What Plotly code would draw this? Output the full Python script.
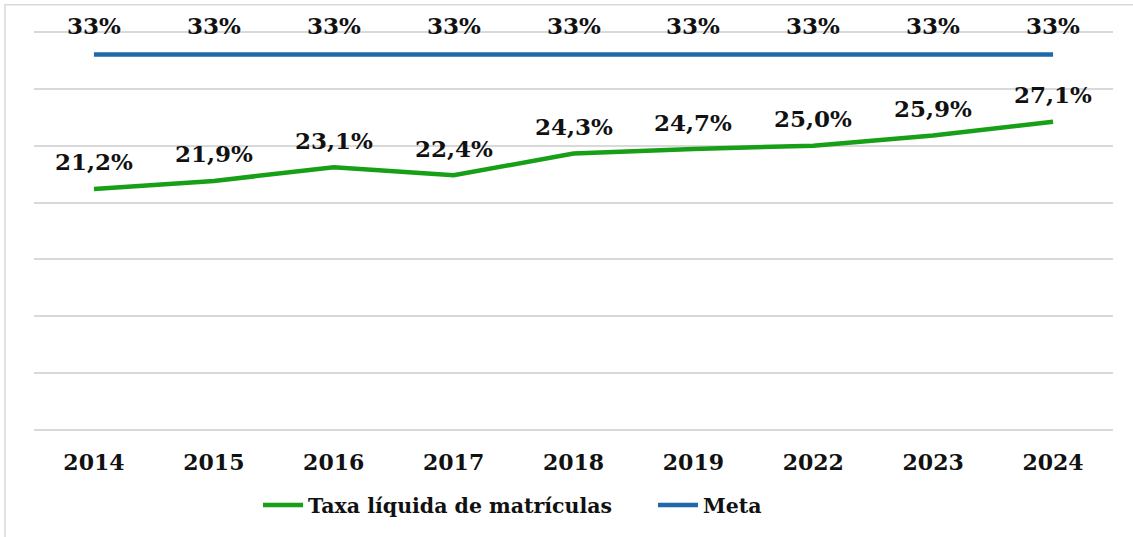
import plotly.graph_objects as go

years = ["2014", "2015", "2016", "2017", "2018", "2019", "2022", "2023", "2024"]
taxa = [21.2, 21.9, 23.1, 22.4, 24.3, 24.7, 25.0, 25.9, 27.1]
meta = [33, 33, 33, 33, 33, 33, 33, 33, 33]
taxa_labels = ["21,2%", "21,9%", "23,1%", "22,4%", "24,3%", "24,7%", "25,0%", "25,9%", "27,1%"]
meta_labels = ["33%"] * 9
y_ticks = [0, 5, 10, 15, 20, 25, 30, 35]

FONT = "DejaVu Serif"
GREEN = "#17A017"
BLUE = "#1F68AA"
TXT = "#111111"

fig = go.Figure()
fig.add_trace(go.Scatter(x=years, y=taxa, mode="lines", name="Taxa líquida de matrículas",
                         line=dict(color=GREEN, width=4.5)))
fig.add_trace(go.Scatter(x=years, y=meta, mode="lines", name="Meta",
                         line=dict(color=BLUE, width=4.5)))

annotations = []
for i, (y, t) in enumerate(zip(taxa, taxa_labels)):
    annotations.append(dict(x=i, y=y, xref="x", yref="y", text=t, showarrow=False, yshift=27,
                            font=dict(family=FONT, size=23, color=TXT, weight="bold")))
for i, (y, t) in enumerate(zip(meta, meta_labels)):
    annotations.append(dict(x=i, y=y, xref="x", yref="y", text=t, showarrow=False, yshift=29,
                            font=dict(family=FONT, size=23, color=TXT, weight="bold")))

W, H = 1133, 537
# pixel positions of the 0 and 35 gridlines / plot x extent in the reference
Y0_PX, Y35_PX = 430, 32
PAD = 0.6
unit = (Y0_PX - Y35_PX) / 35.0
L, R = 34, 20
T = Y35_PX - PAD * unit
B = H - (Y0_PX + PAD * unit)
pw, ph = W - L - R, H - T - B

def px(xp):
    return (xp - L) / pw

def py(yp):
    return (H - B - yp) / ph

fig.update_layout(
    width=W, height=H,
    margin=dict(l=L, r=R, t=T, b=B, autoexpand=False),
    paper_bgcolor="white", plot_bgcolor="white",
    font=dict(family=FONT, size=20, color=TXT, weight="bold"),
    showlegend=True,
    legend=dict(orientation="h", x=px(258), xanchor="left", y=py(505), yanchor="middle",
                font=dict(family=FONT, size=20.5, color=TXT, weight="bold"),
                itemwidth=40, entrywidth=340, entrywidthmode="pixels",
                bgcolor="rgba(0,0,0,0)"),
    annotations=annotations,
    shapes=[dict(type="rect", xref="paper", yref="paper",
                 x0=px(5), x1=px(1145), y0=py(550), y1=py(5),
                 line=dict(color="#D9D9D9", width=1.5), fillcolor="rgba(0,0,0,0)", layer="below")],
)
fig.update_xaxes(type="category", range=[-0.5, len(years) - 0.5],
                 showgrid=False, showline=False, zeroline=False,
                 tickfont=dict(family=FONT, size=22, color=TXT, weight="bold"),
                 ticks="", ticklabelstandoff=int(round(17 - PAD * unit)))
fig.update_yaxes(range=[-PAD, 35 + PAD], tickvals=y_ticks, showticklabels=False,
                 showgrid=True, gridcolor="#D9D9D9", gridwidth=1.5,
                 zeroline=False, showline=False)

fig.write_html("out.html", config={"displayModeBar": False},
               post_script="document.body.style.margin='0';document.body.style.overflow='hidden';")
